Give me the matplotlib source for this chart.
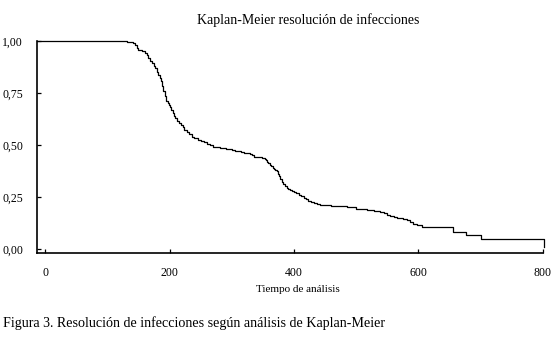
import matplotlib
matplotlib.use("Agg")
from matplotlib import pyplot as plt
from matplotlib.ticker import FuncFormatter

plt.rcParams['font.family'] = ['Liberation Serif', 'DejaVu Serif']

# Kaplan-Meier estimate (time, survival)
times = [-13, 132, 141, 145, 148, 150, 155, 161, 164, 166, 169, 172, 175, 177,
         180, 182, 184, 186, 188, 190, 192, 194, 197, 199, 201, 203, 205, 207,
         209, 212, 215, 218, 221, 224, 228, 232, 236, 240, 245, 250, 255, 260,
         265, 270, 276, 281, 286, 291, 296, 300, 305, 310, 315, 320, 325, 329,
         332, 335, 342, 348, 351, 353, 355, 357, 359, 361, 363, 366, 368, 370,
         372, 374, 376, 378, 380, 382, 385, 388, 391, 394, 397, 400, 404, 408,
         412, 416, 420, 423, 427, 432, 437, 442, 450, 460, 472, 485, 492, 500,
         508, 517, 528, 538, 544, 550, 555, 560, 565, 570, 575, 581, 586, 592,
         598, 605, 655, 676, 701, 801]
surv = [1.0, 0.995, 0.990, 0.980, 0.968, 0.957, 0.950, 0.943, 0.930, 0.917,
        0.905, 0.893, 0.880, 0.869, 0.853, 0.837, 0.821, 0.805, 0.785, 0.760,
        0.735, 0.712, 0.700, 0.692, 0.684, 0.670, 0.655, 0.641, 0.628, 0.617,
        0.605, 0.595, 0.585, 0.574, 0.562, 0.550, 0.540, 0.532, 0.525, 0.518,
        0.512, 0.505, 0.498, 0.492, 0.488, 0.486, 0.484, 0.482, 0.479, 0.477,
        0.473, 0.470, 0.466, 0.463, 0.460, 0.457, 0.450, 0.444, 0.440, 0.437,
        0.436, 0.430, 0.425, 0.418, 0.412, 0.405, 0.398, 0.391, 0.385, 0.378,
        0.372, 0.360, 0.348, 0.336, 0.322, 0.312, 0.303, 0.295, 0.287, 0.282,
        0.277, 0.272, 0.267, 0.260, 0.252, 0.245, 0.238, 0.232, 0.227, 0.221,
        0.216, 0.212, 0.210, 0.207, 0.205, 0.203, 0.199, 0.192, 0.190, 0.188,
        0.184, 0.179, 0.172, 0.165, 0.158, 0.152, 0.149, 0.146, 0.143, 0.139,
        0.130, 0.120, 0.113, 0.107, 0.083, 0.067, 0.047, 0.011]

xticks = [0, 200, 400, 600, 800]
yticks = [0.0, 0.25, 0.5, 0.75, 1.0]

fig = plt.figure(figsize=(5.59, 3.39), dpi=100)
ax = fig.add_axes([0.0662, 0.2537, 0.905, 0.6378])

ax.step(times, surv, where='post', color='black', linewidth=0.9, clip_on=False)

ax.set_xlim(-13, 800)
ax.set_ylim(-0.02, 1.02)
ax.set_xticks(xticks)
ax.set_yticks(yticks)
ax.yaxis.set_major_formatter(FuncFormatter(lambda v, p: "{:.2f}".format(v).replace('.', ',')))

for s in ['top', 'right']:
    ax.spines[s].set_visible(False)
ax.spines['left'].set_bounds(-0.02, 1.0)
ax.spines['left'].set_linewidth(1.2)
ax.spines['bottom'].set_linewidth(1.2)

ax.tick_params(axis='both', direction='in', length=3, width=0.9, labelsize=8.5)
ax.tick_params(axis='y', pad=10)
ax.tick_params(axis='x', pad=10)

fig.text(0.551, 0.94, 'Kaplan-Meier resolución de infecciones', ha='center', va='center', fontsize=10)
fig.text(0.533, 0.147, 'Tiempo de análisis', ha='center', va='center', fontsize=8)
fig.text(0.005, 0.047, 'Figura 3. Resolución de infecciones según análisis de Kaplan-Meier',
         ha='left', va='center', fontsize=10.1)

fig.savefig('out.png', dpi=100)
